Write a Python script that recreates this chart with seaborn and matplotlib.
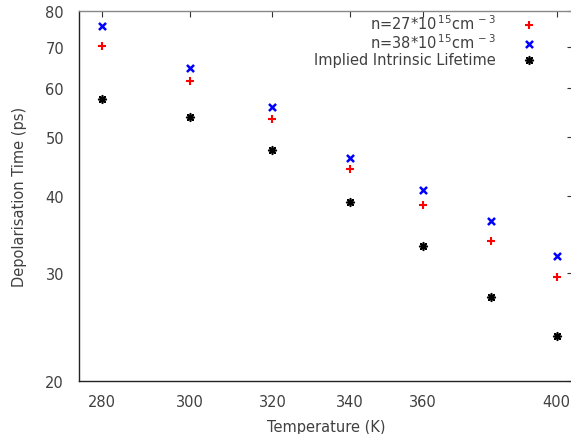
import numpy as np
import pandas as pd
import matplotlib
matplotlib.use("Agg")
import matplotlib.pyplot as plt
import seaborn as sns

temperature = [280, 300, 320, 340, 360, 380, 400]
tau_27 = [70.2, 61.5, 53.4, 44.2, 38.7, 33.8, 29.6]
tau_38 = [75.7, 64.6, 55.8, 46.2, 40.9, 36.4, 32.0]
tau_intrinsic = [57.5, 53.8, 47.5, 39.2, 33.2, 27.4, 23.7]

labels = [r"n=27*10$^{\,15}$cm$^{\,-3}$", r"n=38*10$^{\,15}$cm$^{\,-3}$", "Implied Intrinsic Lifetime"]
xtick_vals = [280, 300, 320, 340, 360, 400]
ytick_vals = [20, 30, 40, 50, 60, 70, 80]

sns.set_style("white")
plt.rcParams['font.family'] = ['DejaVu Sans']
plt.rcParams['mathtext.default'] = 'regular'
txt = '#404040'
fs = 10.5

fig = plt.figure(figsize=(5.71, 4.35), dpi=100)
ax = fig.add_axes([79.3/571, 52.7/435, 493.3/571, 370.3/435])

sns.scatterplot(x=temperature, y=tau_27, marker='+', color='#ff0000', s=38, linewidth=1.5, label=labels[0], ax=ax, zorder=3)
sns.scatterplot(x=temperature, y=tau_38, marker='x', color='#0000ff', s=26, linewidth=1.8, label=labels[1], ax=ax, zorder=3)
sns.scatterplot(x=temperature, y=tau_intrinsic, marker=(8, 2, 0), color='#000000', s=30, linewidth=1.2, label=labels[2], ax=ax, zorder=3)

ax.set_xscale('log')
ax.set_yscale('log')
ax.set_xlim(275, 405)
ax.set_ylim(20, 80)
ax.set_xticks(xtick_vals)
ax.set_xticklabels([str(v) for v in xtick_vals])
ax.set_yticks(ytick_vals)
ax.set_yticklabels([str(v) for v in ytick_vals])
ax.minorticks_off()

ax.tick_params(axis='both', which='major', direction='in', length=4, width=0.8,
               top=True, right=True, labelsize=fs, labelcolor=txt, color='#333333')
ax.tick_params(axis='x', pad=9)
ax.tick_params(axis='y', pad=11)

for s in ['left', 'bottom', 'right']:
    ax.spines[s].set_color('#222222')
    ax.spines[s].set_linewidth(1.0)
ax.spines['top'].set_color('#888888')
ax.spines['top'].set_linewidth(1.0)

ax.set_xlabel('Temperature (K)', fontsize=fs, color=txt, labelpad=7)
ax.set_ylabel('Depolarisation Time (ps)', fontsize=fs, color=txt, labelpad=13)

leg = ax.legend(loc='upper right', bbox_to_anchor=(0.945, 1.018), frameon=False,
                markerfirst=False, fontsize=fs, handletextpad=1.8, labelspacing=0.05,
                handlelength=1.0, borderaxespad=0.2)
for t in leg.get_texts():
    t.set_color(txt)

fig.savefig('out.png', dpi=100)
